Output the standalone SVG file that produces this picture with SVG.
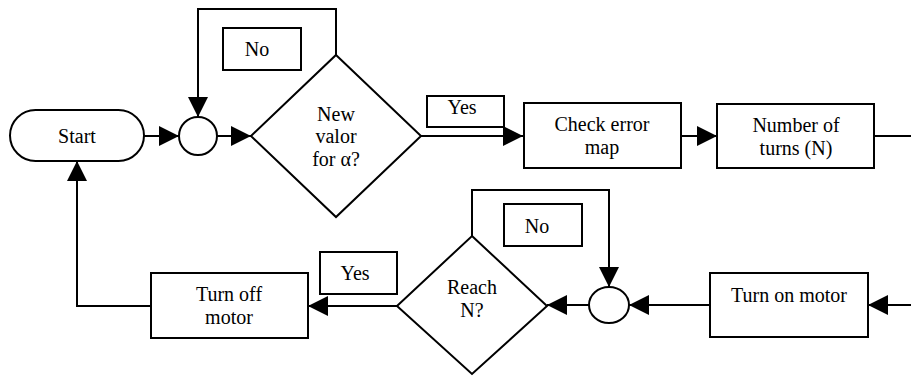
<svg xmlns="http://www.w3.org/2000/svg" width="911" height="376" viewBox="0 0 911 376">
<defs>
<marker id="ah" markerWidth="20" markerHeight="20" viewBox="0 0 20 20" refX="20" refY="10" orient="auto" markerUnits="userSpaceOnUse">
<path d="M0,0 L20,10 L0,20 Z" fill="#000"/>
</marker>
<style>
.s{fill:#fff;stroke:#000;stroke-width:2}
.l{fill:none;stroke:#000;stroke-width:2}
.a{fill:none;stroke:#000;stroke-width:2;marker-end:url(#ah)}
text{font-family:"Liberation Serif","Times New Roman",Times,Tinos,"DejaVu Serif","Noto Serif",serif;font-size:20px;fill:#000;text-anchor:middle}
</style>
</defs>
<rect width="911" height="376" fill="#fff"/>
<g id="connectors">
<path class="a" d="M144,136 L179,136"/>
<path class="a" d="M217,136 L251,136"/>
<path class="a" d="M336,55 L336,9 L198,9 L198,117"/>
<path class="a" d="M421,136 L523,136"/>
<path class="a" d="M681,136 L717,136"/>
<path class="l" d="M874,136 L911,136"/>
<path class="a" d="M911,305 L868,305"/>
<path class="a" d="M710,305 L629,305"/>
<path class="a" d="M589,305 L547,305"/>
<path class="a" d="M472,236 L472,190 L609,190 L609,287"/>
<path class="a" d="M397,306 L308,306"/>
<path class="a" d="M151,306 L77,306 L77,161"/>
</g>
<g id="start">
<rect class="s" x="10" y="110" width="134" height="51" rx="25.5"/>
<text x="77" y="143">Start</text>
</g>
<g id="merge1">
<circle class="s" cx="198" cy="136" r="19"/>
</g>
<g id="decision1">
<path class="s" d="M336,55 L421,136 L336,217 L251,136 Z"/>
<text x="336" y="121">New</text>
<text x="336" y="143">valor</text>
<text x="336" y="166">for α?</text>
</g>
<g id="label-no1">
<rect class="s" x="223" y="28" width="78" height="42"/>
<text x="257" y="56">No</text>
</g>
<g id="label-yes1">
<rect class="s" x="427" y="96" width="77" height="31"/>
<text x="462" y="114">Yes</text>
</g>
<g id="check">
<rect class="s" x="524" y="103" width="157" height="65"/>
<text x="602" y="131">Check error</text>
<text x="602" y="154">map</text>
</g>
<g id="number">
<rect class="s" x="717" y="104" width="157" height="64"/>
<text x="796" y="132">Number of</text>
<text x="796" y="155">turns (N)</text>
</g>
<g id="turnon">
<rect class="s" x="710" y="273" width="158" height="64"/>
<text x="789" y="302">Turn on motor</text>
</g>
<g id="merge2">
<ellipse class="s" cx="609" cy="305" rx="20" ry="18"/>
</g>
<g id="decision2">
<path class="s" d="M472,236 L547,306 L472,374 L397,306 Z"/>
<text x="472" y="294">Reach</text>
<text x="472" y="317">N?</text>
</g>
<g id="label-no2">
<rect class="s" x="504" y="204" width="78" height="42"/>
<text x="537" y="233">No</text>
</g>
<g id="label-yes2">
<rect class="s" x="320" y="252" width="77" height="42"/>
<text x="355" y="280">Yes</text>
</g>
<g id="turnoff">
<rect class="s" x="151" y="273" width="157" height="65"/>
<text x="229" y="301">Turn off</text>
<text x="229" y="324">motor</text>
</g>
</svg>
